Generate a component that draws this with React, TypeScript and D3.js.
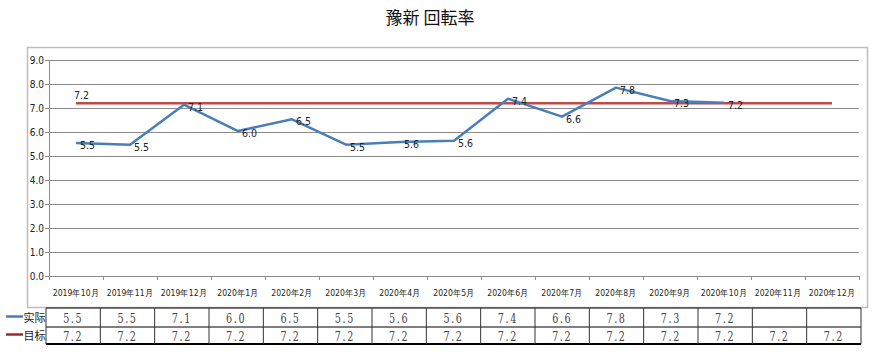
import React from 'react';
import * as d3 from 'd3';

const categories = [
  '2019年10月', '2019年11月', '2019年12月', '2020年1月', '2020年2月', '2020年3月', '2020年4月',
  '2020年5月', '2020年6月', '2020年7月', '2020年8月', '2020年9月', '2020年10月', '2020年11月', '2020年12月',
];
const actual: (number | null)[] = [5.54, 5.47, 7.14, 6.04, 6.53, 5.47, 5.58, 5.64, 7.39, 6.64, 7.85, 7.29, 7.22, null, null];
const target: number[] = [7.2, 7.2, 7.2, 7.2, 7.2, 7.2, 7.2, 7.2, 7.2, 7.2, 7.2, 7.2, 7.2, 7.2, 7.2];
const yTicks = [0, 1, 2, 3, 4, 5, 6, 7, 8, 9];
const seriesNames = ['实际', '目标'];

const W = 885;
const H = 361;
const plot = { left: 49, right: 859, top: 60, bottom: 276 };
const table = { left: 46, right: 861, top: 308, mid: 327, bottom: 344 };
const blue = '#4A7EBB';
const red = '#BE4B48';
const narrow = '"DejaVu Sans Condensed", "Liberation Sans Narrow", sans-serif';
const serif = '"DejaVu Serif", "Liberation Serif", serif';

export default function App() {
  const x = d3.scaleBand<string>().domain(categories).range([plot.left, plot.right]);
  const y = d3.scaleLinear().domain([0, 9]).range([plot.bottom, plot.top]);
  const tx = d3.scaleBand<string>().domain(categories).range([table.left, table.right]);
  const cx = (c: string) => (x(c) || 0) + x.bandwidth() / 2;

  const line = d3.line<number | null>()
    .defined(d => d != null)
    .x((_, i) => cx(categories[i]))
    .y(d => y(d as number));

  const fmt = d3.format('.1f');
  const squeeze = (mx: number, k: number) => `translate(${mx},0) scale(${k},1) translate(${-mx},0)`;

  return (
    <div style={{ position: 'absolute', left: 0, top: 0 }}>
      <svg width={W} height={H} style={{ display: 'block', background: '#fff' }}>
        <text x={430} y={24} textAnchor="middle" fontSize={17} fontFamily='"Noto Sans CJK JP", sans-serif' fill="#111">
          豫新 回転率
        </text>

        {/* chart box */}
        <rect x={27.5} y={47.5} width={840} height={260} fill="none" stroke="#BDBDBD" strokeWidth={1.5} />

        {/* gridlines + y ticks */}
        {yTicks.map(t => (
          <g key={t}>
            <line x1={plot.left} x2={plot.right} y1={y(t) + 0.5} y2={y(t) + 0.5} stroke="#8C8C8C" strokeWidth={1} />
            <line x1={plot.left - 4} x2={plot.left} y1={y(t) + 0.5} y2={y(t) + 0.5} stroke="#8C8C8C" />
            <text x={plot.left - 5} y={y(t) + 4} textAnchor="end" fontSize={10} fontFamily={narrow} fill="#222">
              {fmt(t)}
            </text>
          </g>
        ))}
        <line x1={plot.left + 0.5} x2={plot.left + 0.5} y1={plot.top} y2={plot.bottom} stroke="#8C8C8C" />

        {/* category ticks + labels */}
        {categories.map((c, i) => (
          <g key={c}>
            <line x1={(x(c) || 0) + 0.5} x2={(x(c) || 0) + 0.5} y1={plot.bottom} y2={plot.bottom + 4} stroke="#8C8C8C" />
            {i === categories.length - 1 && (
              <line x1={plot.right + 0.5} x2={plot.right + 0.5} y1={plot.bottom} y2={plot.bottom + 4} stroke="#8C8C8C" />
            )}
            <text x={cx(c)} y={296} textAnchor="middle" fontSize={9.5} fontFamily={narrow} fill="#222"
              transform={squeeze(cx(c), 0.9)}>
              {c}
            </text>
          </g>
        ))}

        {/* series */}
        <path d={line(target) || ''} fill="none" stroke={red} strokeWidth={2.5} />
        <path d={line(actual) || ''} fill="none" stroke={blue} strokeWidth={2.5} strokeLinejoin="round" />

        <text x={cx(categories[0]) - 2} y={y(target[0]) - 4} fontSize={10.5} fontFamily={narrow} fill="#222">
          {fmt(target[0])}
        </text>
        {actual.map((v, i) =>
          v == null ? null : (
            <text key={i} x={cx(categories[i]) + 4} y={y(v) + 6} fontSize={10.5} fontFamily={narrow} fill="#222">
              {fmt(v)}
            </text>
          )
        )}

        {/* data table */}
        <line x1={table.left} x2={table.right} y1={table.top} y2={table.top} stroke="#000" strokeWidth={1} />
        <line x1={table.left} x2={table.right} y1={table.mid} y2={table.mid} stroke="#000" strokeWidth={1} />
        <line x1={table.left} x2={table.right} y1={table.bottom} y2={table.bottom} stroke="#000" strokeWidth={2} />
        {categories.map(c => (
          <line key={c} x1={tx(c) || 0} x2={tx(c) || 0} y1={table.top} y2={table.bottom} stroke="#333" strokeWidth={1} />
        ))}
        <line x1={table.right} x2={table.right} y1={table.top} y2={table.bottom} stroke="#333" strokeWidth={1} />

        {categories.map((c, i) => {
          const mx = (tx(c) || 0) + tx.bandwidth() / 2;
          return (
            <g key={c}>
              {actual[i] != null && (
                <text x={mx} y={table.mid - 4} textAnchor="middle" fontSize={12} letterSpacing={2}
                  fontFamily={serif} fill="#444" transform={squeeze(mx, 0.8)}>
                  {fmt(actual[i] as number)}
                </text>
              )}
              <text x={mx} y={table.bottom - 3} textAnchor="middle" fontSize={12} letterSpacing={2}
                fontFamily={serif} fill="#444" transform={squeeze(mx, 0.8)}>
                {fmt(target[i])}
              </text>
            </g>
          );
        })}

        {/* legend keys */}
        {seriesNames.map((n, i) => {
          const ly = i === 0 ? (table.top + table.mid) / 2 : (table.mid + table.bottom) / 2;
          return (
            <g key={n}>
              <line x1={6} x2={23} y1={ly - 1} y2={ly - 1} stroke={i === 0 ? blue : '#9E2A2A'} strokeWidth={2.5} />
              <text x={23.5} y={ly + 4} fontSize={11} fontFamily='"Noto Sans CJK SC", sans-serif' fill="#222">
                {n}
              </text>
            </g>
          );
        })}
      </svg>
    </div>
  );
}
